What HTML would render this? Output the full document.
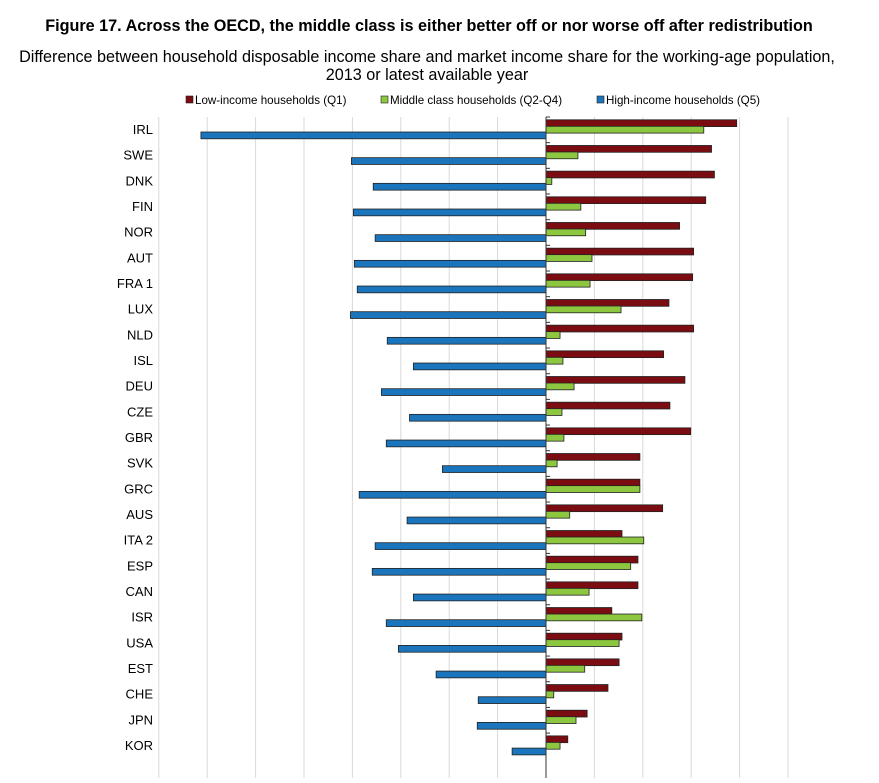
<!DOCTYPE html>
<html><head><meta charset="utf-8"><style>
body{margin:0;background:#fff;width:879px;height:778px;overflow:hidden;font-family:"Liberation Sans",Arial,sans-serif}
</style></head><body>
<svg width="879" height="778" id="chart" font-family="Liberation Sans, Arial, sans-serif">
<text x="429" y="31" text-anchor="middle" font-size="16.2" font-weight="bold">Figure 17. Across the OECD, the middle class is either better off or nor worse off after redistribution</text>
<text x="427" y="62" text-anchor="middle" font-size="16.2">Difference between household disposable income share and market income share for the working-age population,</text>
<text x="427" y="80" text-anchor="middle" font-size="16.2">2013 or latest available year</text>
<g font-size="11.6">
<g><rect x="186" y="96" width="7" height="7" fill="#7b0c12" stroke="#222" stroke-width="0.6"/><text x="195" y="104">Low-income households (Q1)</text></g>
<g><rect x="381" y="96" width="7" height="7" fill="#8dc63f" stroke="#222" stroke-width="0.6"/><text x="390" y="104">Middle class households (Q2-Q4)</text></g>
<g><rect x="597" y="96" width="7" height="7" fill="#1a75bc" stroke="#222" stroke-width="0.6"/><text x="606" y="104">High-income households (Q5)</text></g>
</g>
<g id="grid"></g><g id="bars"></g><g id="labels"></g>
</svg>
<script>
const categories=["IRL","SWE","DNK","FIN","NOR","AUT","FRA 1","LUX","NLD","ISL","DEU","CZE","GBR","SVK","GRC","AUS","ITA 2","ESP","CAN","ISR","USA","EST","CHE","JPN","KOR"];
const lowIncome=[3.94,3.42,3.48,3.30,2.76,3.05,3.03,2.54,3.05,2.43,2.87,2.56,2.99,1.94,1.94,2.41,1.57,1.90,1.90,1.36,1.57,1.51,1.28,0.85,0.45];
const middleClass=[3.26,0.66,0.12,0.72,0.82,0.95,0.91,1.55,0.29,0.35,0.58,0.33,0.37,0.23,1.94,0.49,2.02,1.75,0.89,1.98,1.51,0.80,0.16,0.62,0.29];
const highIncome=[-7.13,-4.02,-3.57,-3.98,-3.53,-3.96,-3.90,-4.04,-3.28,-2.74,-3.40,-2.82,-3.30,-2.14,-3.86,-2.87,-3.53,-3.59,-2.74,-3.30,-3.05,-2.27,-1.40,-1.42,-0.70];
const gridTicks=[-8,-7,-6,-5,-4,-3,-2,-1,0,1,2,3,4,5];
const NS="http://www.w3.org/2000/svg";
const x=v=>546+v*48.4;
const rowTop=i=>117+i*25.67;
function mk(tag,attrs,parent){const e=document.createElementNS(NS,tag);for(const k in attrs)e.setAttribute(k,attrs[k]);parent.appendChild(e);return e;}
const grid=document.getElementById('grid'),bars=document.getElementById('bars'),labels=document.getElementById('labels');
gridTicks.forEach(t=>{if(t===0)return;const l=mk('line',{x1:x(t),x2:x(t),y1:117,y2:778,stroke:'#d9d9d9','stroke-width':1},grid);

});
const series=[[lowIncome,'#7b0c12','bar-low-income',2.8],[middleClass,'#8dc63f','bar-middle-class',9.3],[highIncome,'#1a75bc','bar-high-income',15]];
categories.forEach((c,i)=>{
 const t=mk('text',{x:153,y:rowTop(i)+17,'text-anchor':'end','font-size':13},labels);t.textContent=c;
 
 
 series.forEach(([arr,col,name,off])=>{const v=arr[i];const a=x(0),b=x(v);
  const r=mk('rect',{x:Math.min(a,b),y:rowTop(i)+off,width:Math.abs(b-a),height:6.8,fill:col,stroke:'#222','stroke-width':0.8},bars);
  
  });
 const tk=mk('line',{x1:546,x2:550,y1:rowTop(i),y2:rowTop(i),stroke:'#333'},bars);
 
 
});
const ax=mk('line',{x1:546,x2:546,y1:117,y2:778,stroke:'#333','stroke-width':1},bars);


</script>
</body></html>
